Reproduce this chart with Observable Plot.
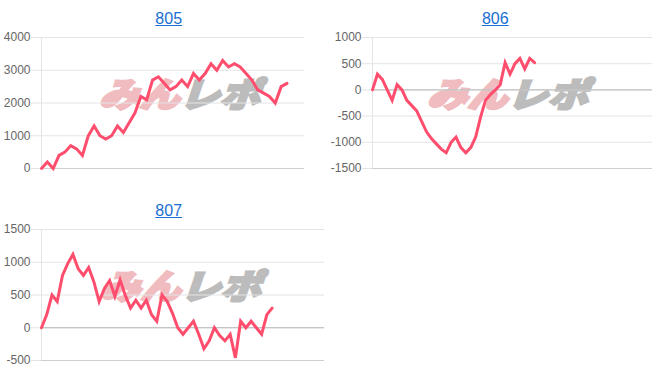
<!DOCTYPE html>
<html>
<head>
<meta charset="utf-8">
<script src="https://cdn.jsdelivr.net/npm/d3@7"></script>
<script src="https://cdn.jsdelivr.net/npm/@observablehq/plot@0.6"></script>
<style>
  html, body { margin: 0; padding: 0; background: #fff; }
  body { width: 652px; height: 382px; position: relative; overflow: hidden; font-family: "Liberation Sans", Arial, Helvetica, sans-serif; }
  .title { position: absolute; font-size: 16px; line-height: 16px; color: #1a6fd0; text-decoration: underline; transform: translateX(-50%); white-space: nowrap; }
  .wm { position: absolute; transform: translate(-50%, -50%) scaleX(1.18) skewX(-16deg); font-family: "Noto Sans CJK JP", sans-serif; font-weight: 900; font-size: 34px; line-height: 34px; white-space: nowrap; letter-spacing: 0px; }
  .wm .a { color: #f0bcc0; -webkit-text-stroke: 2.5px #f0bcc0; }
  .wm .b { color: #bcbcbc; -webkit-text-stroke: 2.5px #bcbcbc; }
  .plotbox { position: absolute; }
  .plotbox svg { overflow: visible; }
</style>
</head>
<body>
<script>
// ---- data ----
const machines = ["805", "806", "807"];
const slotCounts = [46, 58, 55];           // number of x slots (labels) per chart
const values805 = [0, 200, 0, 400, 500, 700, 600, 400, 1000, 1300, 1000, 900, 1000, 1300, 1100, 1400, 1700, 2200, 2100, 2700, 2800, 2600, 2400, 2500, 2700, 2500, 2900, 2700, 2900, 3200, 3000, 3300, 3100, 3200, 3100, 2900, 2700, 2400, 2300, 2200, 2000, 2500, 2600];
const values806 = [0, 300, 200, 0, -200, 100, 0, -200, -300, -400, -600, -800, -930, -1030, -1130, -1200, -1000, -900, -1100, -1200, -1100, -900, -520, -200, -90, 0, 100, 520, 300, 500, 600, 400, 600, 520];
const values807 = [0, 200, 500, 400, 800, 980, 1120, 900, 800, 920, 700, 400, 600, 720, 480, 730, 490, 300, 420, 300, 420, 200, 100, 500, 400, 220, 0, -100, 0, 100, -100, -320, -200, 0, -120, -200, -100, -460, 100, 0, 100, 0, -100, 200, 300];
const yDomains = [[0, 4000], [-1500, 1000], [-500, 1500]];
const yTicks = [
  [0, 1000, 2000, 3000, 4000],
  [-1500, -1000, -500, 0, 500, 1000],
  [-500, 0, 500, 1000, 1500]
];
const seriesList = [values805, values806, values807];

// ---- layout (page pixels) ----
const layout = [
  {left: 0,   top: 30,  width: 306, ml: 41, mr: 2, titleX: 168.7, titleY: 11,  wmX: 184, wmY: 93},
  {left: 326, top: 30,  width: 326, ml: 46, mr: 0, titleX: 495.3, titleY: 11,  wmX: 512, wmY: 93},
  {left: 0,   top: 222, width: 326, ml: 41, mr: 2, titleX: 168.7, titleY: 203, wmX: 185, wmY: 285}
];

const lineColor = "#ff4d6d";

machines.forEach((name, k) => {
  const L = layout[k];
  const t = document.createElement("a");
  t.className = "title";
  t.textContent = name;
  t.style.left = L.titleX + "px";
  t.style.top = L.titleY + "px";
  document.body.appendChild(t);

  const wm = document.createElement("div");
  wm.className = "wm";
  wm.style.left = L.wmX + "px";
  wm.style.top = L.wmY + "px";
  wm.innerHTML = '<span class="a">みん</span><span class="b">レポ</span>';
  document.body.appendChild(wm);

  const vals = seriesList[k];
  const dom = yDomains[k];
  const chart = Plot.plot({
    width: L.width,
    height: 143,
    marginLeft: L.ml,
    marginRight: L.mr,
    marginTop: 7,
    marginBottom: 5,
    style: {background: "transparent", fontFamily: "'Liberation Sans', Arial, Helvetica, sans-serif", fontSize: "12px", overflow: "visible"},
    x: {domain: [0, slotCounts[k] - 1], axis: null},
    y: {domain: dom, axis: null},
    marks: [
      Plot.ruleY(yTicks[k], {stroke: "#e4e4e4", strokeWidth: 1}),
      Plot.ruleX([0], {stroke: "#e4e4e4", strokeWidth: 1}),
      Plot.ruleY([0], {stroke: "#b9b9b9", strokeWidth: 1}),
      Plot.ruleY([dom[0]], {stroke: "#cfcfcf", strokeWidth: 1}),
      Plot.axisY({ticks: yTicks[k], tickSize: 10, tickPadding: 1, stroke: "#e4e4e4", fill: "#666", color: "#666", fontSize: 12, label: null, tickFormat: d => String(d)}),
      Plot.line(vals, {x: (d, i) => i, y: d => d, stroke: lineColor, strokeWidth: 3, strokeLinejoin: "miter", strokeMiterlimit: 4})
    ]
  });
  const box = document.createElement("div");
  box.className = "plotbox";
  box.style.left = L.left + "px";
  box.style.top = L.top + "px";
  box.appendChild(chart);
  document.body.appendChild(box);
});
</script>
</body>
</html>
